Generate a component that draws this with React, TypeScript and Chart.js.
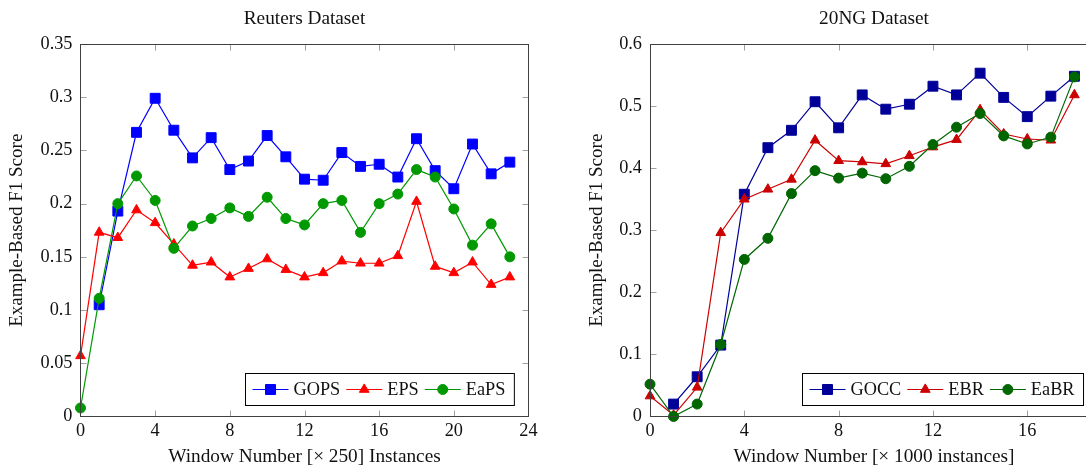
import React, { useEffect, useRef } from 'react';
import { Chart, registerables } from 'chart.js';

Chart.register(...registerables);

const FONT = '"Liberation Serif", "Times New Roman", serif';

// ---------- Reuters dataset ----------
const reutersWindows = [0, 1, 2, 3, 4, 5, 6, 7, 8, 9, 10, 11, 12, 13, 14, 15, 16, 17, 18, 19, 20, 21, 22, 23];
const reutersGOPS = [null, 0.105, 0.193, 0.267, 0.299, 0.269, 0.243, 0.262, 0.232, 0.240, 0.264, 0.244, 0.223, 0.222, 0.248, 0.235, 0.237, 0.225, 0.261, 0.231, 0.214, 0.256, 0.228, 0.239];
const reutersEPS = [0.057, 0.173, 0.168, 0.194, 0.182, 0.162, 0.142, 0.145, 0.131, 0.139, 0.148, 0.138, 0.131, 0.135, 0.146, 0.144, 0.144, 0.151, 0.202, 0.141, 0.135, 0.145, 0.124, 0.131];
const reutersEaPS = [0.008, 0.111, 0.200, 0.226, 0.203, 0.158, 0.179, 0.186, 0.196, 0.188, 0.206, 0.186, 0.180, 0.200, 0.203, 0.173, 0.200, 0.209, 0.232, 0.225, 0.195, 0.161, 0.181, 0.150];
const reutersXTicks = [0, 4, 8, 12, 16, 20, 24];
const reutersYTicks = [0, 0.05, 0.1, 0.15, 0.2, 0.25, 0.3, 0.35];

// ---------- 20NG dataset ----------
const ngWindows = [0, 1, 2, 3, 4, 5, 6, 7, 8, 9, 10, 11, 12, 13, 14, 15, 16, 17, 18];
const ngGOCC = [null, 0.020, 0.064, 0.115, 0.358, 0.433, 0.461, 0.507, 0.465, 0.518, 0.495, 0.503, 0.532, 0.518, 0.553, 0.514, 0.483, 0.516, 0.548];
const ngEBR = [0.033, 0.002, 0.047, 0.296, 0.350, 0.366, 0.382, 0.445, 0.412, 0.410, 0.407, 0.420, 0.434, 0.446, 0.494, 0.455, 0.447, 0.445, 0.518];
const ngEaBR = [0.052, 0.000, 0.020, 0.116, 0.253, 0.287, 0.359, 0.396, 0.384, 0.392, 0.383, 0.403, 0.438, 0.466, 0.488, 0.452, 0.439, 0.450, 0.547];
const ngXTicks = [0, 4, 8, 12, 16];
const ngYTicks = [0, 0.1, 0.2, 0.3, 0.4, 0.5, 0.6];

type LegendItem = { label: string; color: string; style: string };

function drawMarker(ctx: CanvasRenderingContext2D, style: string, x: number, y: number, color: string) {
  ctx.save();
  ctx.fillStyle = color;
  ctx.strokeStyle = color;
  ctx.lineWidth = 1;
  ctx.beginPath();
  if (style === 'rect') {
    ctx.rect(x - 5, y - 5, 10, 10);
  } else if (style === 'triangle') {
    const r = 5.6;
    ctx.moveTo(x, y - r);
    ctx.lineTo(x + r * Math.sin((2 * Math.PI) / 3), y - r * Math.cos((2 * Math.PI) / 3));
    ctx.lineTo(x + r * Math.sin((4 * Math.PI) / 3), y - r * Math.cos((4 * Math.PI) / 3));
    ctx.closePath();
  } else {
    ctx.arc(x, y, 5, 0, Math.PI * 2);
  }
  ctx.fill();
  ctx.stroke();
  ctx.restore();
}

const pgfPlugin = {
  id: 'pgf',
  beforeDatasetsDraw(chart: any) {
    const { ctx, chartArea: a, scales } = chart;
    const L = Math.floor(a.left) + 0.5;
    const R = Math.floor(a.right) + 0.5;
    const T = Math.floor(a.top) + 0.5;
    const B = Math.floor(a.bottom) + 0.5;
    ctx.save();
    ctx.strokeStyle = '#a0a0a0';
    ctx.lineWidth = 1;
    const tl = 6;
    ctx.beginPath();
    for (const t of scales.x.ticks) {
      const px = Math.round(scales.x.getPixelForValue(t.value)) + 0.5;
      if (px <= L + 1 || px >= R - 1) continue;
      ctx.moveTo(px, B);
      ctx.lineTo(px, B - tl);
      ctx.moveTo(px, T);
      ctx.lineTo(px, T + tl);
    }
    for (const t of scales.y.ticks) {
      const py = Math.round(scales.y.getPixelForValue(t.value)) + 0.5;
      if (py <= T + 1 || py >= B - 1) continue;
      ctx.moveTo(L, py);
      ctx.lineTo(L + tl, py);
      ctx.moveTo(R, py);
      ctx.lineTo(R - tl, py);
    }
    ctx.stroke();
    ctx.restore();
  },
  afterDatasetsDraw(chart: any, _args: any, opts: any) {
    const { ctx, chartArea: a } = chart;
    const L = Math.floor(a.left) + 0.5;
    const R = Math.floor(a.right) + 0.5;
    const T = Math.floor(a.top) + 0.5;
    const B = Math.floor(a.bottom) + 0.5;
    ctx.save();
    // frame
    ctx.strokeStyle = '#404040';
    ctx.lineWidth = 1;
    ctx.strokeRect(L, T, R - L, B - T);

    // title
    ctx.fillStyle = '#111';
    ctx.font = `19.3px ${FONT}`;
    ctx.textAlign = 'center';
    ctx.textBaseline = 'alphabetic';
    ctx.fillText(opts.title, (a.left + a.right) / 2, 24);

    // legend
    const items: LegendItem[] = opts.legend || [];
    ctx.font = `18.3px ${FONT}`;
    const padL = 7, padR = 9, lineLen = 36, textGap = 5, itemGap = 6;
    let w = padL + padR;
    const widths = items.map((it) => ctx.measureText(it.label).width);
    items.forEach((_, i) => {
      w += lineLen + textGap + widths[i];
      if (i > 0) w += itemGap;
    });
    const h = 32;
    const bx = Math.floor(a.right - 14 - w) + 0.5;
    const by = Math.floor(a.bottom - 11.5 - h) + 0.5;
    ctx.fillStyle = '#ffffff';
    ctx.fillRect(bx, by, w, h);
    ctx.strokeStyle = '#000';
    ctx.lineWidth = 1;
    ctx.strokeRect(bx, by, w, h);
    const cy = by + h / 2;
    let x = bx + padL;
    items.forEach((it, i) => {
      ctx.strokeStyle = it.color;
      ctx.lineWidth = 1.2;
      ctx.beginPath();
      ctx.moveTo(x, cy);
      ctx.lineTo(x + lineLen, cy);
      ctx.stroke();
      drawMarker(ctx, it.style, x + lineLen / 2, cy, it.color);
      x += lineLen + textGap;
      ctx.fillStyle = '#111';
      ctx.textAlign = 'left';
      ctx.textBaseline = 'middle';
      ctx.fillText(it.label, x, cy + 1);
      x += widths[i] + itemGap;
    });
    ctx.restore();
  },
};

type Series = { label: string; data: (number | null)[]; color: string; style: string; radius: number; order: number };

type PanelProps = {
  left: number;
  width: number;
  title: string;
  windows: number[];
  series: Series[];
  xMax: number;
  yMax: number;
  xTicks: number[];
  yTicks: number[];
  xTitle: string;
  yAxisWidth: number;
  yTitlePad: number;
  padRight: number;
};

function Panel(p: PanelProps) {
  const ref = useRef<HTMLCanvasElement | null>(null);
  useEffect(() => {
    if (!ref.current) return;
    const datasets = p.series.map((s) => ({
      label: s.label,
      data: p.windows.map((w, i) => ({ x: w, y: s.data[i] })),
      borderColor: s.color,
      backgroundColor: s.color,
      pointBackgroundColor: s.color,
      pointBorderColor: s.color,
      pointStyle: s.style,
      pointRadius: s.radius,
      pointBorderWidth: 1,
      borderWidth: 1.2,
      tension: 0,
      spanGaps: false,
      clip: false as any,
      order: s.order,
    }));
    const chart = new Chart(ref.current, {
      type: 'line',
      data: { datasets },
      options: {
        responsive: false,
        animation: false,
        devicePixelRatio: 1,
        layout: { padding: { left: 0, right: p.padRight, top: 44, bottom: 0 } },
        plugins: {
          legend: { display: false },
          tooltip: { enabled: false },
          title: { display: false },
          pgf: {
            title: p.title,
            legend: p.series
              .slice()
              .sort((a, b) => b.order - a.order)
              .map((s) => ({ label: s.label, color: s.color, style: s.style })),
          },
        } as any,
        scales: {
          x: {
            type: 'linear',
            min: 0,
            max: p.xMax,
            grid: { display: false, drawTicks: false },
            border: { display: false },
            afterBuildTicks: (scale: any) => {
              scale.ticks = p.xTicks.filter((v) => v <= p.xMax).map((v) => ({ value: v }));
            },
            afterFit: (scale: any) => {
              scale.height = 465 - 44 - 372.5;
            },
            ticks: {
              font: { family: FONT, size: 18.3 },
              color: '#111',
              padding: 4,
              maxRotation: 0,
              autoSkip: false,
              callback: (v: any) => String(v),
            },
            title: {
              display: true,
              text: p.xTitle,
              font: { family: FONT, size: 19.3, lineHeight: 0.8 },
              color: '#111',
              padding: { top: 0, bottom: 0.3 },
            },
          },
          y: {
            type: 'linear',
            min: 0,
            max: p.yMax,
            grid: { display: false, drawTicks: false },
            border: { display: false },
            afterBuildTicks: (scale: any) => {
              scale.ticks = p.yTicks.map((v) => ({ value: v }));
            },
            afterFit: (scale: any) => {
              scale.width = p.yAxisWidth;
            },
            ticks: {
              font: { family: FONT, size: 18.3 },
              color: '#111',
              padding: 8,
              autoSkip: false,
              callback: (v: any) => String(Number(Number(v).toFixed(2))),
            },
            title: {
              display: true,
              text: 'Example-Based F1 Score',
              font: { family: FONT, size: 19, lineHeight: 1 },
              color: '#111',
              padding: { top: p.yTitlePad, bottom: 0 },
            },
          },
        },
      },
      plugins: [pgfPlugin as any],
    });
    return () => chart.destroy();
  }, []);
  return (
    <canvas
      ref={ref}
      width={p.width}
      height={465}
      style={{ position: 'absolute', left: p.left, top: 0, width: p.width, height: 465 }}
    />
  );
}

export default function App() {
  return (
    <div
      style={{
        position: 'fixed',
        left: 0,
        top: 0,
        width: 1086,
        height: 465,
        overflow: 'hidden',
        background: '#ffffff',
      }}
    >
      <Panel
        left={0}
        width={545}
        title="Reuters Dataset"
        windows={reutersWindows}
        series={[
          { label: 'GOPS', data: reutersGOPS, color: '#0000ff', style: 'rect', radius: 7, order: 3 },
          { label: 'EPS', data: reutersEPS, color: '#ff0000', style: 'triangle', radius: 5.6, order: 2 },
          { label: 'EaPS', data: reutersEaPS, color: '#009900', style: 'circle', radius: 5, order: 1 },
        ]}
        xMax={24}
        yMax={0.35}
        xTicks={reutersXTicks}
        yTicks={reutersYTicks}
        xTitle="Window Number [× 250] Instances"
        yAxisWidth={80.5}
        yTitlePad={7.2}
        padRight={16.5}
      />
      <Panel
        left={545}
        width={570}
        title="20NG Dataset"
        windows={ngWindows}
        series={[
          { label: 'GOCC', data: ngGOCC, color: '#000099', style: 'rect', radius: 7, order: 3 },
          { label: 'EBR', data: ngEBR, color: '#cc0000', style: 'triangle', radius: 5.6, order: 2 },
          { label: 'EaBR', data: ngEaBR, color: '#006600', style: 'circle', radius: 5, order: 1 },
        ]}
        xMax={19}
        yMax={0.6}
        xTicks={ngXTicks}
        yTicks={ngYTicks}
        xTitle="Window Number [× 1000 instances]"
        yAxisWidth={105}
        yTitlePad={42.5}
        padRight={17}
      />
    </div>
  );
}
